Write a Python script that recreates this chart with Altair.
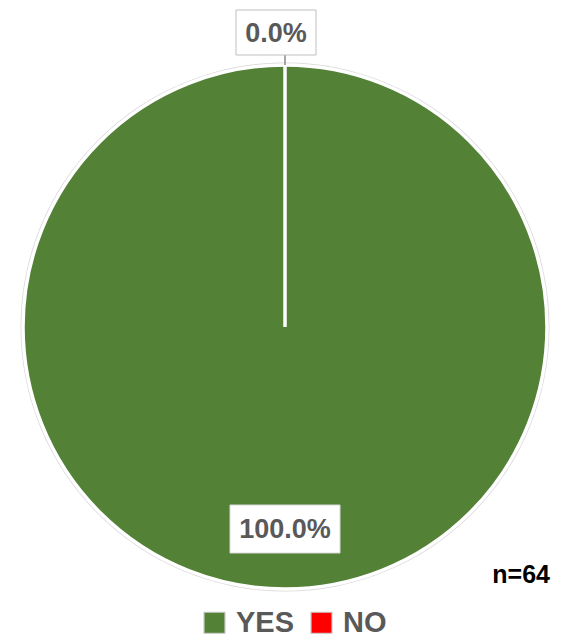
import altair as alt
import pandas as pd

categories = ["YES", "NO"]
counts = [64, 0]
percent_labels = ["100.0%", "0.0%"]
n_label = "n=64"

colors = ["#538135", "#ff0000"]

df = pd.DataFrame({"answer": categories, "count": counts, "label": percent_labels, "order": [0, 1]})

CX, CY, R = 277, 319, 262
FONT = "Liberation Sans"

base = alt.Chart(df)

ring = base.transform_filter("datum.answer == 'YES'").mark_arc(
    radius=R + 2.5, fill="#d9d9d9"
).encode(theta=alt.Theta("count:Q"), x=alt.value(CX), y=alt.value(CY))

pie = base.mark_arc(radius=R, stroke="white", strokeWidth=3.5).encode(
    theta=alt.Theta("count:Q", stack=True),
    order=alt.Order("order:Q"),
    color=alt.Color(
        "answer:N",
        scale=alt.Scale(domain=categories, range=colors),
        sort=categories,
        legend=alt.Legend(
            title=None, orient="none", legendX=192, legendY=600, direction="horizontal",
            symbolType="square", symbolSize=440, symbolStrokeColor="#c8c8c8",
            symbolStrokeWidth=1.2, labelFont=FONT, labelFontSize=29, labelFontWeight="bold",
            labelColor="#595959", labelOffset=7, columnPadding=12, symbolOpacity=1,
        ),
    ),
    x=alt.value(CX), y=alt.value(CY),
)

leader = base.transform_filter("datum.answer == 'NO'").mark_rule(color="#a6a6a6", strokeWidth=2).encode(
    x=alt.value(CX), y=alt.value(47), y2=alt.value(57)
)

box_no = base.transform_filter("datum.answer == 'NO'").mark_rect(
    fill="white", stroke="#bfbfbf", strokeWidth=1
).encode(x=alt.value(228), x2=alt.value(308), y=alt.value(2), y2=alt.value(47))

box_yes = base.transform_filter("datum.answer == 'YES'").mark_rect(
    fill="white", stroke="#d9d9d9", strokeWidth=1
).encode(x=alt.value(222), x2=alt.value(332), y=alt.value(497), y2=alt.value(545))

txt_no = base.transform_filter("datum.answer == 'NO'").mark_text(
    font=FONT, fontSize=27, fontWeight="bold", color="#595959", baseline="middle"
).encode(text="label:N", x=alt.value(268), y=alt.value(26))

txt_yes = base.transform_filter("datum.answer == 'YES'").mark_text(
    font=FONT, fontSize=27, fontWeight="bold", color="#595959", baseline="middle"
).encode(text="label:N", x=alt.value(277), y=alt.value(522))

n_text = base.transform_filter("datum.answer == 'YES'").mark_text(
    font=FONT, fontSize=25, fontWeight="bold", color="#000000", align="right", baseline="middle", text=n_label
).encode(x=alt.value(542), y=alt.value(567))

chart = alt.layer(ring, pie, leader, box_no, box_yes, txt_no, txt_yes, n_text).properties(
    width=545, height=640, autosize=alt.AutoSizeParams(type="none"), padding=0
).configure_view(stroke=None)

chart.save("out.html", embed_options={"renderer": "svg", "actions": False})
